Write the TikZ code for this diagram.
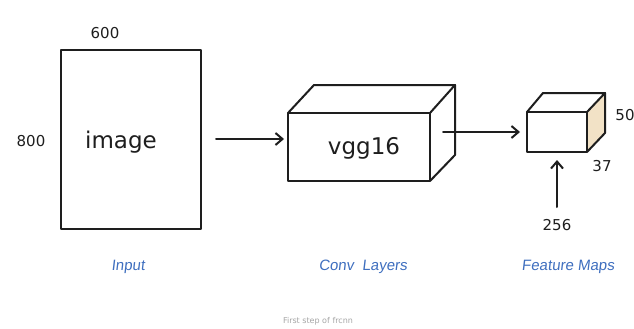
\documentclass[tikz,border=0pt]{standalone}
\usepackage{fontspec}
\setmainfont{DejaVu Sans}
\newfontfamily\labelfont{Liberation Sans}[FakeSlant=0.12]
\usetikzlibrary{arrows.meta}
\definecolor{ink}{HTML}{1E1E1E}
\definecolor{penblue}{HTML}{3F6FBF}
\definecolor{sideface}{HTML}{F2E2C6}
\tikzset{
  x=1pt, y=-1pt,
  pen/.style={draw=ink, line width=2pt, line join=round, line cap=round},
  flow/.style={pen, -{Straight Barb[length=7pt,width=12pt,line width=2pt]}},
  hand/.style={text=ink, inner sep=1pt, font=\fontsize{23}{26}\selectfont},
  dim/.style={text=ink, inner sep=1pt, font=\fontsize{15}{17}\selectfont},
  caption/.style={text=penblue, inner sep=1pt, font=\labelfont\fontsize{15}{17}\selectfont},
}
\begin{document}
\begin{tikzpicture}
\useasboundingbox[fill=white] (0,0) rectangle (634,329);

% input image sheet
\coordinate (i1) at (61,50);
\coordinate (i2) at (201,229);
\draw[pen] (i1) rectangle (i2);
\node[hand] (imgtxt) at (121,142) {image};
\node[dim] (w) at (105,33) {600};
\node[dim] (h) at (31,141) {800};

% vgg16 block
\coordinate (vA) at (288,113);
\coordinate (vB) at (430,113);
\coordinate (vC) at (430,181);
\coordinate (vD) at (288,181);
\coordinate (vE) at (314,85);
\coordinate (vF) at (455,85);
\coordinate (vG) at (455,155);
\draw[pen] (vA) -- (vB) -- (vC) -- (vD) -- cycle;
\draw[pen] (vA) -- (vE) -- (vF) -- (vB);
\draw[pen] (vF) -- (vG) -- (vC);
\node[hand] (vgg) at (364,148) {vgg16};

% feature map block
\coordinate (fA) at (527,112);
\coordinate (fB) at (587,112);
\coordinate (fC) at (587,152);
\coordinate (fD) at (527,152);
\coordinate (fE) at (543,93);
\coordinate (fF) at (605,93);
\coordinate (fG) at (605,133);
\fill[sideface] (fB) -- (fF) -- (fG) -- (fC) -- cycle;
\draw[pen] (fA) -- (fB) -- (fC) -- (fD) -- cycle;
\draw[pen] (fA) -- (fE) -- (fF) -- (fB);
\draw[pen] (fF) -- (fG) -- (fC);
\node[dim] (d50) at (625,115) {50};
\node[dim] (d37) at (602,166) {37};
\node[dim] (d256) at (557,225) {256};

% connectors
\coordinate (a1s) at (216,139);
\coordinate (a1e) at (284,139);
\draw[flow] (a1s) -- (a1e);
\coordinate (a2s) at (443,132);
\coordinate (a2e) at (520,132);
\draw[flow] (a2s) -- (a2e);
\coordinate (a3s) at (557,207);
\coordinate (a3e) at (557,160);
\draw[flow] (a3s) -- (a3e);

% stage captions
\node[caption] (c1) at (128,267) {Input};
\node[caption] (c2) at (363,267) {Conv\ \ Layers};
\node[caption] (c3) at (568,267) {Feature Maps};
\node[text=black!35, font=\fontsize{8}{9}\selectfont] (cap) at (318,321) {First step of frcnn};
\end{tikzpicture}
\end{document}
